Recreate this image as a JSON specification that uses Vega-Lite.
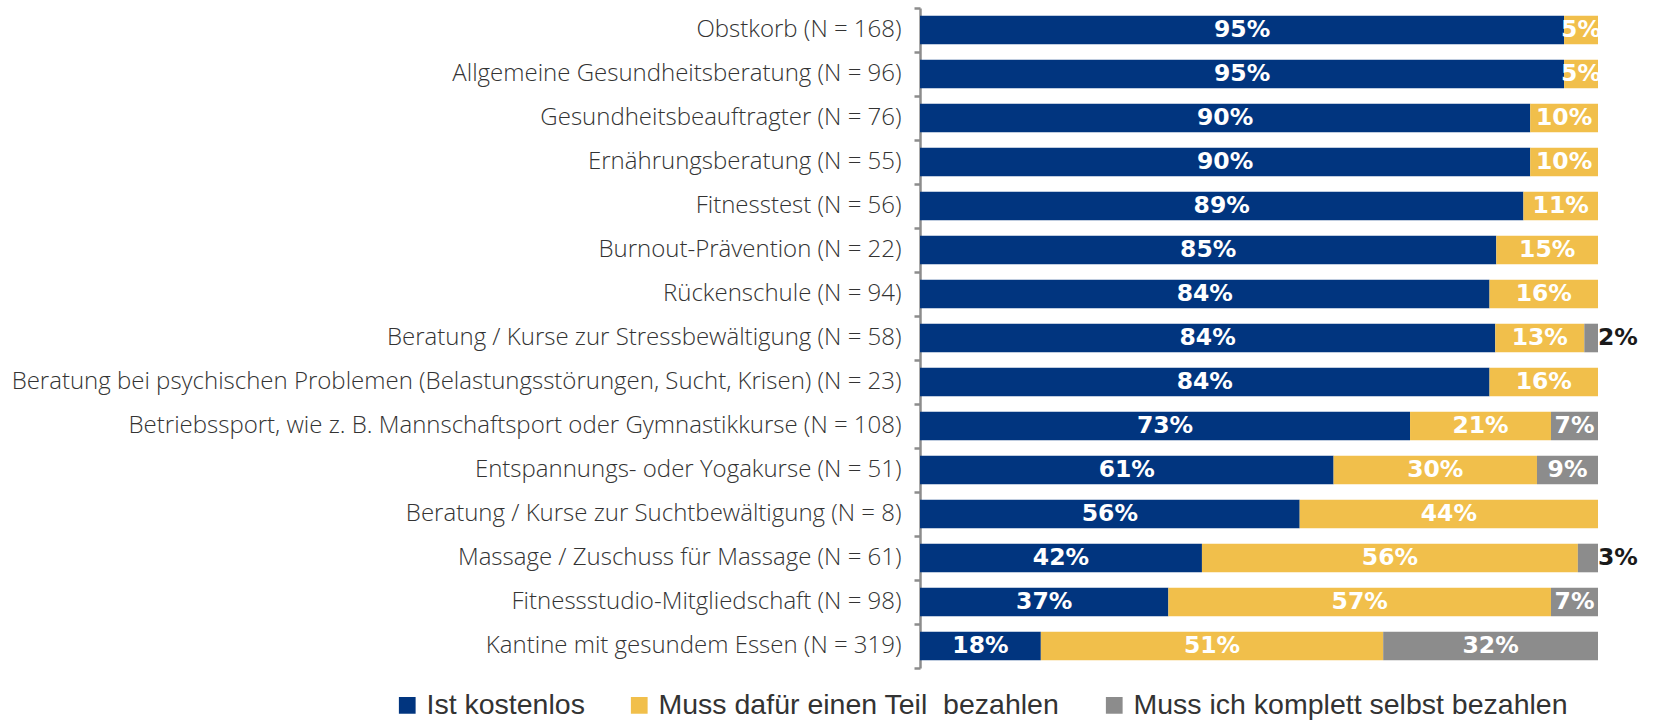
{
  "$schema": "https://vega.github.io/schema/vega-lite/v6.json",
  "autosize": {"type": "none"},
  "padding": {"left": 920, "top": 8, "right": 59, "bottom": 55},
  "width": 678,
  "height": 660,
  "background": "white",
  "config": {"view": {"stroke": null}},
  "data": {"values": [
    {"item": "Obstkorb (N = 168)", "typ": "Ist kostenlos", "pct": 95},
    {"item": "Obstkorb (N = 168)", "typ": "Muss dafür einen Teil\u00a0 bezahlen", "pct": 5},
    {"item": "Allgemeine Gesundheitsberatung (N = 96)", "typ": "Ist kostenlos", "pct": 95},
    {"item": "Allgemeine Gesundheitsberatung (N = 96)", "typ": "Muss dafür einen Teil\u00a0 bezahlen", "pct": 5},
    {"item": "Gesundheitsbeauftragter (N = 76)", "typ": "Ist kostenlos", "pct": 90},
    {"item": "Gesundheitsbeauftragter (N = 76)", "typ": "Muss dafür einen Teil\u00a0 bezahlen", "pct": 10},
    {"item": "Ernährungsberatung (N = 55)", "typ": "Ist kostenlos", "pct": 90},
    {"item": "Ernährungsberatung (N = 55)", "typ": "Muss dafür einen Teil\u00a0 bezahlen", "pct": 10},
    {"item": "Fitnesstest (N = 56)", "typ": "Ist kostenlos", "pct": 89},
    {"item": "Fitnesstest (N = 56)", "typ": "Muss dafür einen Teil\u00a0 bezahlen", "pct": 11},
    {"item": "Burnout-Prävention (N = 22)", "typ": "Ist kostenlos", "pct": 85},
    {"item": "Burnout-Prävention (N = 22)", "typ": "Muss dafür einen Teil\u00a0 bezahlen", "pct": 15},
    {"item": "Rückenschule (N = 94)", "typ": "Ist kostenlos", "pct": 84},
    {"item": "Rückenschule (N = 94)", "typ": "Muss dafür einen Teil\u00a0 bezahlen", "pct": 16},
    {"item": "Beratung / Kurse zur Stressbewältigung (N = 58)", "typ": "Ist kostenlos", "pct": 84},
    {"item": "Beratung / Kurse zur Stressbewältigung (N = 58)", "typ": "Muss dafür einen Teil\u00a0 bezahlen", "pct": 13},
    {"item": "Beratung / Kurse zur Stressbewältigung (N = 58)", "typ": "Muss ich komplett selbst bezahlen", "pct": 2},
    {"item": "Beratung bei psychischen Problemen (Belastungsstörungen, Sucht, Krisen) (N = 23)", "typ": "Ist kostenlos", "pct": 84},
    {"item": "Beratung bei psychischen Problemen (Belastungsstörungen, Sucht, Krisen) (N = 23)", "typ": "Muss dafür einen Teil\u00a0 bezahlen", "pct": 16},
    {"item": "Betriebssport, wie z. B. Mannschaftsport oder Gymnastikkurse (N = 108)", "typ": "Ist kostenlos", "pct": 73},
    {"item": "Betriebssport, wie z. B. Mannschaftsport oder Gymnastikkurse (N = 108)", "typ": "Muss dafür einen Teil\u00a0 bezahlen", "pct": 21},
    {"item": "Betriebssport, wie z. B. Mannschaftsport oder Gymnastikkurse (N = 108)", "typ": "Muss ich komplett selbst bezahlen", "pct": 7},
    {"item": "Entspannungs- oder Yogakurse (N = 51)", "typ": "Ist kostenlos", "pct": 61},
    {"item": "Entspannungs- oder Yogakurse (N = 51)", "typ": "Muss dafür einen Teil\u00a0 bezahlen", "pct": 30},
    {"item": "Entspannungs- oder Yogakurse (N = 51)", "typ": "Muss ich komplett selbst bezahlen", "pct": 9},
    {"item": "Beratung / Kurse zur Suchtbewältigung (N = 8)", "typ": "Ist kostenlos", "pct": 56},
    {"item": "Beratung / Kurse zur Suchtbewältigung (N = 8)", "typ": "Muss dafür einen Teil\u00a0 bezahlen", "pct": 44},
    {"item": "Massage / Zuschuss für Massage (N = 61)", "typ": "Ist kostenlos", "pct": 42},
    {"item": "Massage / Zuschuss für Massage (N = 61)", "typ": "Muss dafür einen Teil\u00a0 bezahlen", "pct": 56},
    {"item": "Massage / Zuschuss für Massage (N = 61)", "typ": "Muss ich komplett selbst bezahlen", "pct": 3},
    {"item": "Fitnessstudio-Mitgliedschaft (N = 98)", "typ": "Ist kostenlos", "pct": 37},
    {"item": "Fitnessstudio-Mitgliedschaft (N = 98)", "typ": "Muss dafür einen Teil\u00a0 bezahlen", "pct": 57},
    {"item": "Fitnessstudio-Mitgliedschaft (N = 98)", "typ": "Muss ich komplett selbst bezahlen", "pct": 7},
    {"item": "Kantine mit gesundem Essen (N = 319)", "typ": "Ist kostenlos", "pct": 18},
    {"item": "Kantine mit gesundem Essen (N = 319)", "typ": "Muss dafür einen Teil\u00a0 bezahlen", "pct": 51},
    {"item": "Kantine mit gesundem Essen (N = 319)", "typ": "Muss ich komplett selbst bezahlen", "pct": 32}
  ]},
  "transform": [
    {"stack": "pct", "groupby": ["item"], "sort": [{"field": "typ", "order": "ascending"}], "offset": "normalize", "as": ["x0", "x1"]},
    {"calculate": "(datum.x0 + datum.x1) / 2", "as": "mid"},
    {"calculate": "datum.pct + '%'", "as": "label"}
  ],
  "encoding": {
    "y": {
      "field": "item", "type": "nominal",
      "sort": [
        "Obstkorb (N = 168)",
        "Allgemeine Gesundheitsberatung (N = 96)",
        "Gesundheitsbeauftragter (N = 76)",
        "Ernährungsberatung (N = 55)",
        "Fitnesstest (N = 56)",
        "Burnout-Prävention (N = 22)",
        "Rückenschule (N = 94)",
        "Beratung / Kurse zur Stressbewältigung (N = 58)",
        "Beratung bei psychischen Problemen (Belastungsstörungen, Sucht, Krisen) (N = 23)",
        "Betriebssport, wie z. B. Mannschaftsport oder Gymnastikkurse (N = 108)",
        "Entspannungs- oder Yogakurse (N = 51)",
        "Beratung / Kurse zur Suchtbewältigung (N = 8)",
        "Massage / Zuschuss für Massage (N = 61)",
        "Fitnessstudio-Mitgliedschaft (N = 98)",
        "Kantine mit gesundem Essen (N = 319)"
      ],
      "scale": {"paddingInner": 0, "paddingOuter": 0},
      "axis": {
        "title": null,
        "bandPosition": 1,
        "tickExtra": true,
        "labelOffset": 0,
        "domainColor": "#8c8c8c",
        "domainWidth": 2.5,
        "tickColor": "#8c8c8c",
        "tickWidth": 2.5,
        "tickSize": 6,
        "labelPadding": 13,
        "labelFont": "Open Sans",
        "labelFontWeight": 300,
        "labelFontSize": 24,
        "labelColor": "#333333",
        "labelLimit": 1000
      }
    }
  },
  "layer": [
    {
      "mark": {"type": "bar", "height": {"band": 0.65}},
      "encoding": {
        "x": {"field": "x0", "type": "quantitative", "scale": {"domain": [0, 1], "nice": false}, "axis": null},
        "x2": {"field": "x1"},
        "color": {
          "field": "typ", "type": "nominal",
          "scale": {
            "domain": ["Ist kostenlos", "Muss dafür einen Teil\u00a0 bezahlen", "Muss ich komplett selbst bezahlen"],
            "range": ["#01357f", "#f1bf4b", "#8c8c8c"]
          },
          "legend": {
            "title": null,
            "orient": "none",
            "direction": "horizontal",
            "legendX": -527,
            "legendY": 683,
            "symbolType": "square",
            "symbolSize": 280,
            "symbolStrokeWidth": 0,
            "symbolOpacity": 1,
            "labelFont": "Liberation Sans",
            "labelFontSize": 28.5,
            "labelColor": "#333333",
            "labelOffset": 5,
            "labelLimit": 1000,
            "columnPadding": 40
          }
        }
      }
    },
    {
      "transform": [{"filter": "!(datum.typ == 'Muss ich komplett selbst bezahlen' && datum.pct <= 3)"}],
      "mark": {"type": "text", "font": "DejaVu Sans", "fontWeight": "bold", "fontSize": 23.5, "color": "white", "baseline": "middle", "align": "center"},
      "encoding": {
        "x": {"field": "mid", "type": "quantitative"},
        "text": {"field": "label"}
      }
    },
    {
      "transform": [{"filter": "datum.typ == 'Muss ich komplett selbst bezahlen' && datum.pct <= 3"}],
      "mark": {"type": "text", "font": "DejaVu Sans", "fontWeight": "bold", "fontSize": 23.5, "color": "#1a1a1a", "baseline": "middle", "align": "left", "dx": 0},
      "encoding": {
        "x": {"field": "x1", "type": "quantitative"},
        "text": {"field": "label"}
      }
    }
  ]
}
